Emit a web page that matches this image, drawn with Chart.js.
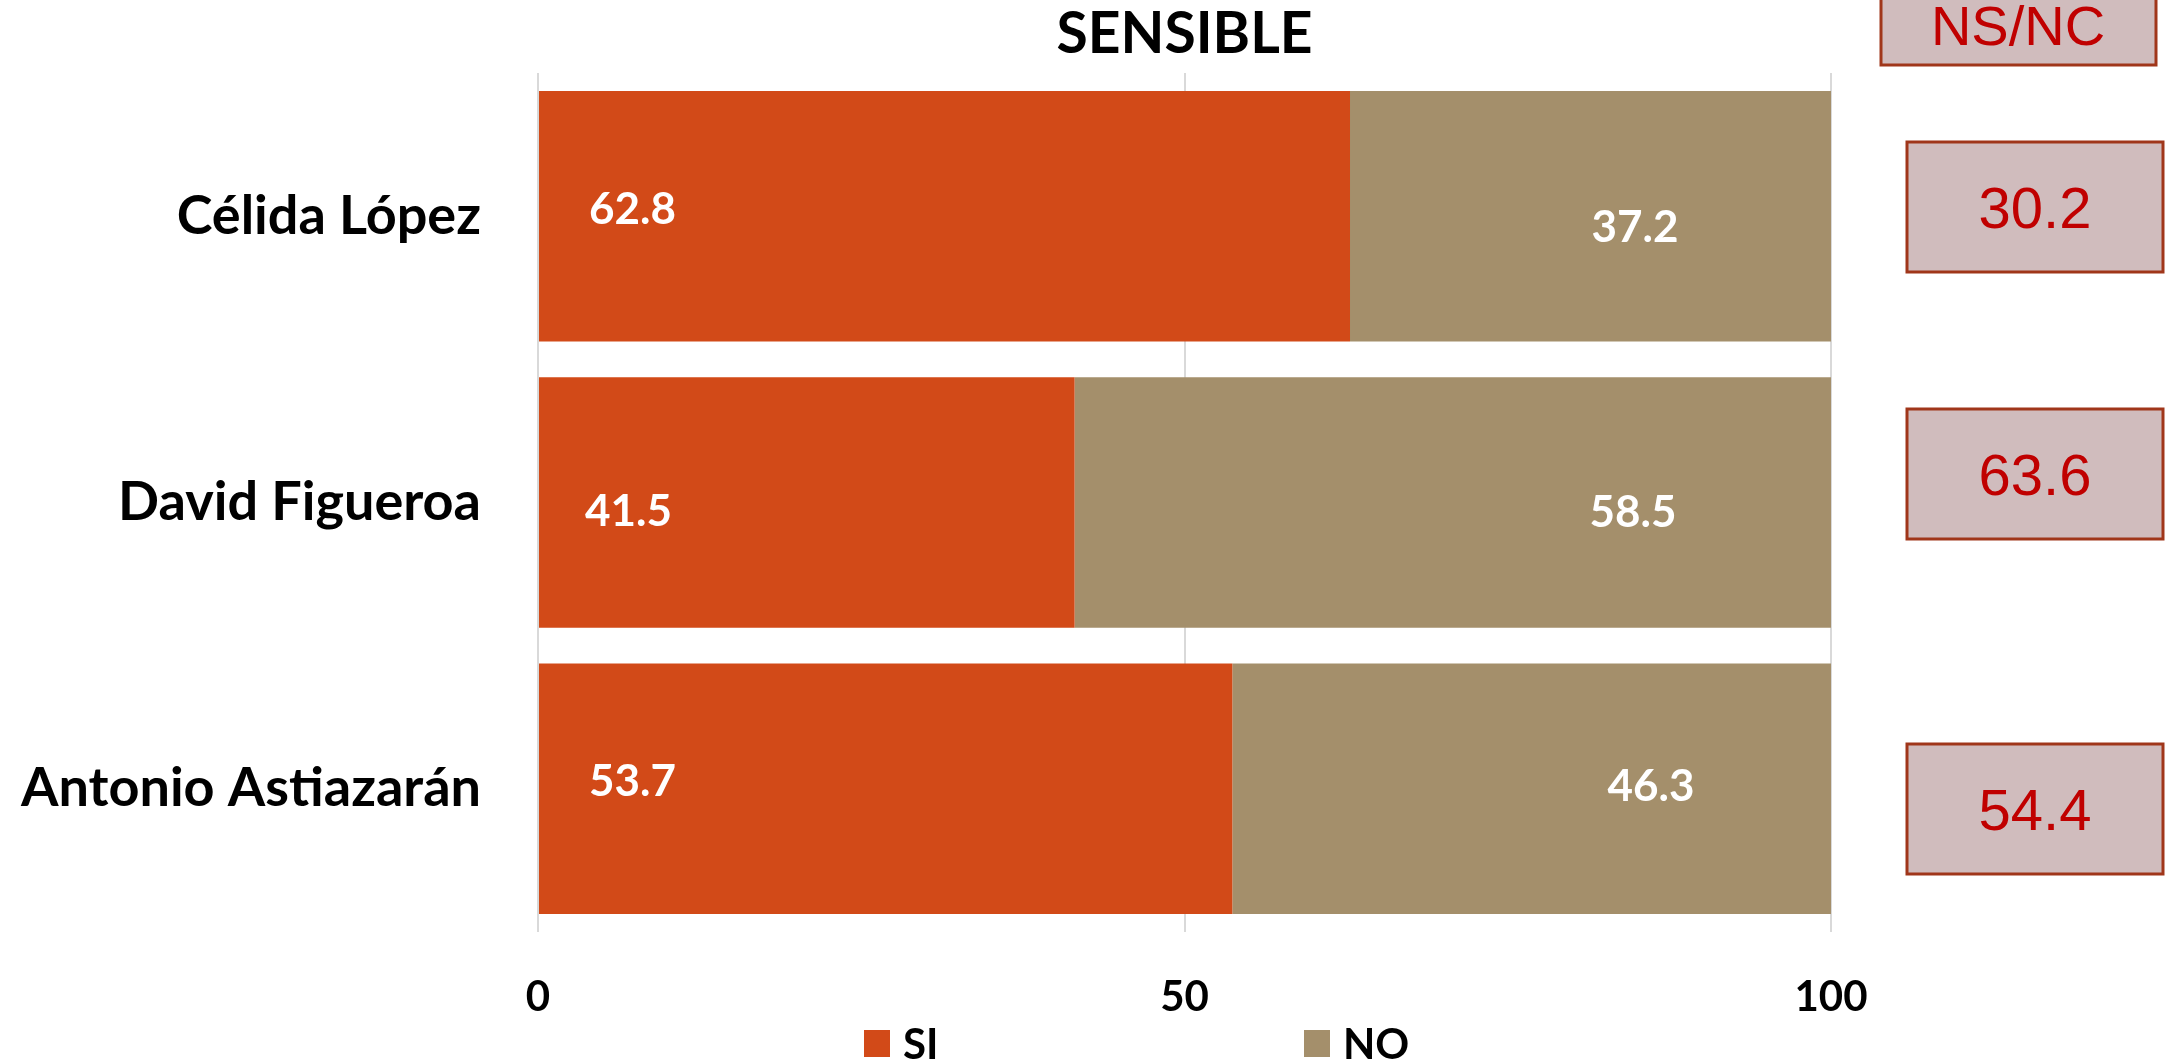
<!DOCTYPE html>
<html>
<head>
<meta charset="utf-8">
<script src="https://cdn.jsdelivr.net/npm/chart.js@4.4.0/dist/chart.umd.min.js"></script>
<style>
  html, body { margin: 0; padding: 0; background: #ffffff; }
  #wrap { width: 2174px; height: 1061px; position: relative; }
</style>
</head>
<body>
<div id="wrap"><canvas id="c" width="2174" height="1061"></canvas></div>
<script>
const chartTitle = 'SENSIBLE';
const categories = ['Célida López', 'David Figueroa', 'Antonio Astiazarán'];
const seriesNames = ['SI', 'NO'];
const siValues = [62.8, 41.5, 53.7];
const noValues = [37.2, 58.5, 46.3];
const nsncHeader = 'NS/NC';
const nsncValues = [30.2, 63.6, 54.4];

const SI_COLOR = '#D24A18';
const NO_COLOR = '#A48F6B';
const FONT = 'Lato, "Open Sans", sans-serif';

const overlay = {
  id: 'overlay',
  afterDatasetsDraw(chart, args, opts) {
    const ctx = chart.ctx;
    const m0 = chart.getDatasetMeta(0);
    const m1 = chart.getDatasetMeta(1);
    ctx.save();
    ctx.fillStyle = '#ffffff';
    ctx.font = 'bold 44px ' + FONT;
    ctx.textBaseline = 'alphabetic';
    m0.data.forEach((bar, i) => {
      const p = bar.getProps(['x', 'y', 'base'], true);
      const o = opts.siShift[i];
      ctx.textAlign = 'left';
      ctx.fillText(siValues[i].toFixed(1), p.base + 50 + o[0], p.y + 16 + o[1]);
    });
    m1.data.forEach((bar, i) => {
      const p = bar.getProps(['x', 'y', 'base'], true);
      const o = opts.noShift[i];
      ctx.textAlign = 'center';
      ctx.fillText(noValues[i].toFixed(1), p.x - 190 + o[0], p.y + 16 + o[1]);
    });
    ctx.restore();
  },
  afterDraw(chart, args, opts) {
    const ctx = chart.ctx;
    const area = chart.chartArea;
    ctx.save();
    // title
    ctx.fillStyle = '#000000';
    ctx.font = 'bold 57px ' + FONT;
    ctx.textAlign = 'center';
    ctx.textBaseline = 'alphabetic';
    ctx.fillText(chartTitle, (area.left + area.right) / 2, 53);

    // legend
    const ds = chart.data.datasets;
    const legendX = [area.left + 326, area.left + 766];
    ds.forEach((d, i) => {
      ctx.fillStyle = d.backgroundColor;
      ctx.fillRect(legendX[i], 1030, 26, 27);
      ctx.fillStyle = '#000000';
      ctx.font = 'bold 42px ' + FONT;
      ctx.textAlign = 'left';
      ctx.fillText(d.label, legendX[i] + 39, 1059);
    });

    // NS/NC boxes
    const drawBox = (x, y, w, h, text) => {
      ctx.fillStyle = '#D0BCBD';
      ctx.fillRect(x, y, w, h);
      ctx.strokeStyle = '#A0361A';
      ctx.lineWidth = 3;
      ctx.strokeRect(x, y, w, h);
      ctx.fillStyle = '#C00000';
      ctx.font = '58px "Liberation Sans", Arial, sans-serif';
      ctx.textAlign = 'center';
      ctx.textBaseline = 'alphabetic';
      ctx.fillText(text, x + w / 2, y + h / 2 + 21);
    };
    ctx.fillStyle = '#D0BCBD';
    ctx.fillRect(1881, -5, 275, 70);
    ctx.strokeStyle = '#A0361A';
    ctx.lineWidth = 3;
    ctx.strokeRect(1881, -5, 275, 70);
    ctx.fillStyle = '#C00000';
    ctx.font = '56px "Liberation Sans", Arial, sans-serif';
    ctx.textAlign = 'center';
    ctx.fillText(nsncHeader, 2018, 45);
    opts.boxTops.forEach((top, i) => {
      drawBox(1907, top, 256, 130, nsncValues[i].toFixed(1));
    });
    ctx.restore();
  }
};

new Chart(document.getElementById('c'), {
  type: 'bar',
  data: {
    labels: categories,
    datasets: [
      { label: seriesNames[0], data: siValues, backgroundColor: SI_COLOR },
      { label: seriesNames[1], data: noValues, backgroundColor: NO_COLOR }
    ]
  },
  options: {
    indexAxis: 'y',
    responsive: false,
    animation: false,
    layout: { padding: { top: 73, right: 343, bottom: 0, left: 0 } },
    datasets: { bar: { categoryPercentage: 1, barPercentage: 0.875 } },
    plugins: {
      legend: { display: false },
      title: { display: false },
      tooltip: { enabled: false },
      overlay: {
        siShift: [[0, -8], [-4, 7], [0, -9]],
        noShift: [[-6, 10], [-8, 8], [10, -4]],
        boxTops: [142, 409, 744]
      }
    },
    scales: {
      x: {
        stacked: true,
        min: 0,
        max: 100,
        ticks: { stepSize: 50, color: '#000', font: { family: FONT, size: 42, weight: 'bold' }, padding: 40 },
        grid: { color: '#D9D9D9', lineWidth: 2, drawTicks: false },
        border: { display: false },
        afterFit(scale) { scale.height = 129; }
      },
      y: {
        stacked: true,
        ticks: { color: '#000', font: { family: FONT, size: 54, weight: 'bold' }, padding: 57 },
        grid: { display: false, drawTicks: false },
        border: { display: false },
        afterFit(scale) { scale.width = 538; scale.paddingTop = 0; scale.paddingBottom = 0; }
      }
    }
  },
  plugins: [overlay]
});
</script>
</body>
</html>
